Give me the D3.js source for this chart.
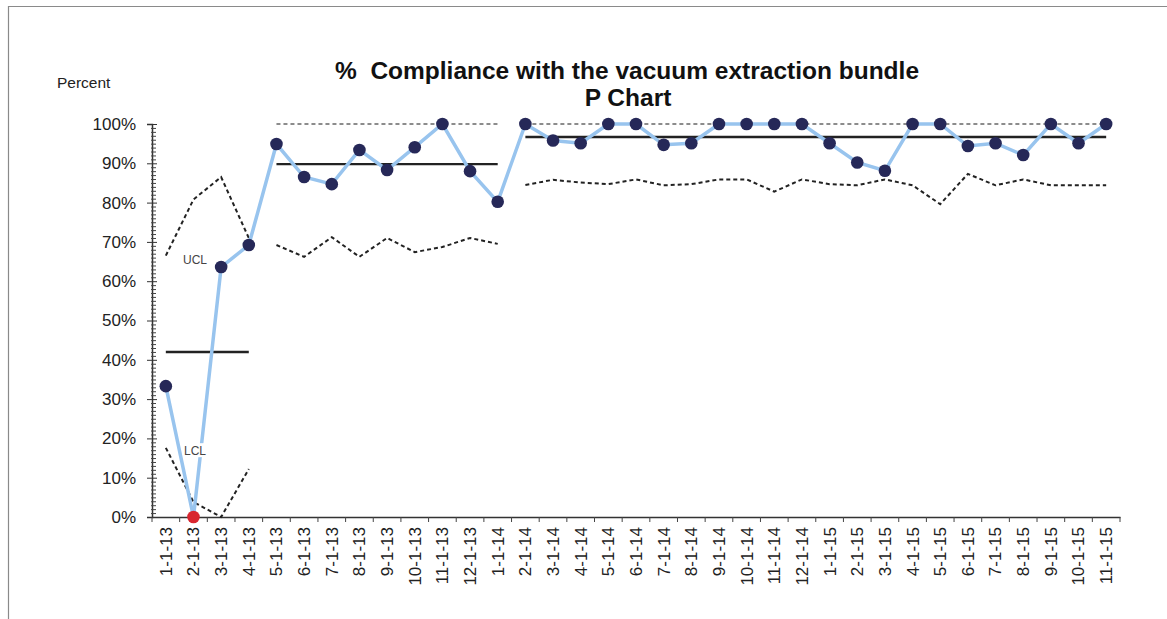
<!DOCTYPE html>
<html>
<head>
<meta charset="utf-8">
<script src="https://cdn.jsdelivr.net/npm/d3@7"></script>
<style>
  body { margin: 0; background: #fff; }
  svg { display: block; font-family: Arial, "Liberation Sans", sans-serif; }
</style>
</head>
<body>
<svg width="1167" height="619"></svg>
<script>
'use strict';
// monthly samples, 1-1-13 .. 11-1-15
var months = ['1-1-13', '2-1-13', '3-1-13', '4-1-13', '5-1-13', '6-1-13', '7-1-13', '8-1-13', '9-1-13',
  '10-1-13', '11-1-13', '12-1-13', '1-1-14', '2-1-14', '3-1-14', '4-1-14', '5-1-14', '6-1-14', '7-1-14',
  '8-1-14', '9-1-14', '10-1-14', '11-1-14', '12-1-14', '1-1-15', '2-1-15', '3-1-15', '4-1-15', '5-1-15',
  '6-1-15', '7-1-15', '8-1-15', '9-1-15', '10-1-15', '11-1-15'];
var compliance = [33.3, 0, 63.6, 69.2, 94.9, 86.5, 84.7, 93.4, 88.3, 94.1, 100, 88.0, 80.2,
  100, 95.8, 95.1, 100, 100, 94.7, 95.1, 100, 100, 100, 100,
  95.1, 90.2, 88.1, 100, 100, 94.4, 95.1, 92.1, 100, 95.1, 100];
var phase = [0, 0, 0, 0, 1, 1, 1, 1, 1, 1, 1, 1, 1,
  2, 2, 2, 2, 2, 2, 2, 2, 2, 2, 2, 2, 2, 2, 2, 2, 2, 2, 2, 2, 2, 2];
var centre = [42, 89.8, 96.7];
var ucl = [66.5, 80.8, 86.5, 71.0, 100, 100, 100, 100, 100, 100, 100, 100, 100,
  100, 100, 100, 100, 100, 100, 100, 100, 100, 100, 100,
  100, 100, 100, 100, 100, 100, 100, 100, 100, 100, 100];
var lcl = [17.6, 3.8, 0, 12.2, 69.2, 66.2, 71.2, 66.2, 71.0, 67.4, 68.7, 71.0, 69.5,
  84.5, 85.8, 85.1, 84.7, 85.9, 84.4, 84.7, 85.9, 85.9, 82.8, 85.9,
  84.7, 84.4, 85.9, 84.4, 79.6, 87.3, 84.4, 85.9, 84.4, 84.4, 84.4];
var yTicks = [0, 10, 20, 30, 40, 50, 60, 70, 80, 90, 100];

(() => {
  var svg = d3.select('svg');
  var left = 152, right = 1120, plotTop = 124, bottom = 517;

  var x = d3.scaleBand().domain(months).range([left, right]).padding(0);
  var y = d3.scaleLinear().domain([0, 100]).range([bottom, plotTop]);
  var cx = d => x(d) + x.bandwidth() / 2;

  // frame
  svg.append('path')
    .attr('d', 'M8.5,619V6.5H1167')
    .attr('fill', 'none')
    .attr('stroke', '#8a8a8a')
    .attr('stroke-width', 1.2);

  // title
  var title = svg.append('text')
    .attr('text-anchor', 'middle')
    .attr('font-weight', 'bold')
    .attr('font-size', 24.5)
    .attr('fill', '#111');
  title.append('tspan').attr('x', 627).attr('y', 78.5).style('white-space', 'pre')
    .text('%  Compliance with the vacuum extraction bundle');
  title.append('tspan').attr('x', 628).attr('y', 105.5).text('P Chart');

  svg.append('text')
    .attr('x', 57).attr('y', 88)
    .attr('font-size', 15.5)
    .attr('fill', '#222')
    .text('Percent');

  // y axis
  var yAxis = svg.append('g')
    .attr('transform', `translate(${left},0)`)
    .call(d3.axisLeft(y).tickValues(yTicks).tickFormat(d => d + '%').tickSize(5).tickPadding(11));
  yAxis.selectAll('.tick line').attr('x2', -5).attr('x1', 5).attr('stroke', '#333');
  yAxis.selectAll('.tick text').attr('font-size', 17).attr('fill', '#222')
    .attr('font-family', 'Arial, "Liberation Sans", sans-serif');
  yAxis.select('.domain').attr('stroke', '#333').attr('stroke-width', 1.5);

  svg.append('g')
    .attr('transform', `translate(${left},0)`)
    .selectAll('line').data(d3.range(1, 100).filter(v => v % 10))
    .enter().append('line')
    .attr('x1', -1).attr('x2', 4)
    .attr('y1', d => y(d) + 0.5).attr('y2', d => y(d) + 0.5)
    .attr('stroke', '#444');

  // x axis
  var xAxis = svg.append('g')
    .attr('transform', `translate(0,${bottom})`)
    .call(d3.axisBottom(x).tickSize(0).tickPadding(0));
  xAxis.select('.domain').attr('stroke', '#333').attr('stroke-width', 1.5);
  xAxis.selectAll('.tick text')
    .attr('transform', 'rotate(-90)')
    .attr('text-anchor', 'end')
    .attr('x', -10)
    .attr('y', 0)
    .attr('dy', '0.35em')
    .attr('font-size', 17)
    .attr('fill', '#222')
    .attr('font-family', 'Arial, "Liberation Sans", sans-serif');

  svg.append('g')
    .selectAll('line').data(months.concat(['end']))
    .enter().append('line')
    .attr('x1', d => d === 'end' ? right : x(d))
    .attr('x2', d => d === 'end' ? right : x(d))
    .attr('y1', bottom).attr('y2', bottom + 5)
    .attr('stroke', '#444');

  // control limits per phase
  var idx = months.map((m, i) => i);
  var phases = [0, 1, 2].map(p => idx.filter(i => phase[i] === p));
  var limitLine = vals => d3.line().x(i => cx(months[i])).y(i => y(vals[i]));

  phases.forEach((ids, p) => {
    svg.append('path')
      .attr('d', limitLine(ucl)(ids))
      .attr('fill', 'none')
      .attr('stroke', p === 0 ? '#222' : '#8c8c8c')
      .attr('stroke-width', 2)
      .attr('stroke-dasharray', '4,3');
    svg.append('path')
      .attr('d', limitLine(lcl)(ids))
      .attr('fill', 'none')
      .attr('stroke', '#222')
      .attr('stroke-width', 2)
      .attr('stroke-dasharray', '4,3');
    svg.append('line')
      .attr('x1', cx(months[ids[0]]))
      .attr('x2', cx(months[ids[ids.length - 1]]))
      .attr('y1', y(centre[p])).attr('y2', y(centre[p]))
      .attr('stroke', '#222')
      .attr('stroke-width', 2.4);
  });

  // data line
  svg.append('path')
    .datum(idx)
    .attr('d', d3.line().x(i => cx(months[i])).y(i => y(compliance[i])))
    .attr('fill', 'none')
    .attr('stroke', '#98c4ee')
    .attr('stroke-width', 3.5);

  // UCL / LCL tags
  [['UCL', 65.5], ['LCL', 17]].forEach(t => {
    var g = svg.append('g')
      .attr('transform', `translate(${cx(months[1]) + 1.5},${y(t[1])})`);
    g.append('rect')
      .attr('x', -12).attr('y', -7).attr('width', 24).attr('height', 14)
      .attr('fill', '#fff');
    g.append('text')
      .attr('text-anchor', 'middle')
      .attr('dy', '0.36em')
      .attr('font-size', 12)
      .attr('fill', '#444')
      .text(t[0]);
  });

  svg.append('g')
    .selectAll('circle').data(idx)
    .enter().append('circle')
    .attr('cx', i => cx(months[i]))
    .attr('cy', i => y(compliance[i]))
    .attr('r', 6.3)
    .attr('fill', i => compliance[i] < lcl[i] || compliance[i] > ucl[i] ? '#d8262f' : '#262858');
})();
</script>
</body>
</html>
